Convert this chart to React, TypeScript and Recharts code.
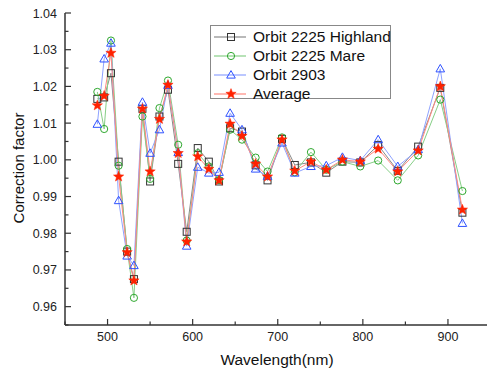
import { LineChart, Line, XAxis, YAxis, Legend } from "recharts"

const wavelengths = [488, 496, 504, 513, 523, 531, 541, 550, 561, 571, 583, 593, 606, 619, 631, 644, 658, 674, 688, 705, 720, 739, 757, 776, 797, 818, 841, 865, 891, 917]

const highland = [1.0166, 1.017, 1.0236, 0.9995, 0.975, 0.9675, 1.0139, 0.9941, 1.0118, 1.0191, 0.9989, 0.9804, 1.0032, 0.9995, 0.9941, 1.0086, 1.0077, 0.9985, 0.9944, 1.0057, 0.9986, 0.9993, 0.9965, 0.9995, 0.9993, 1.004, 0.997, 1.0036, 1.0196, 0.9856]
const mare = [1.0185, 1.0084, 1.0325, 0.9984, 0.9757, 0.9624, 1.0118, 0.9948, 1.0141, 1.0216, 1.0041, 0.978, 1.0018, 0.9982, 0.9945, 1.0082, 1.0055, 1.0006, 0.9968, 1.0061, 0.9966, 1.0021, 0.9973, 0.9995, 0.9982, 0.9998, 0.9944, 1.0012, 1.0164, 0.9915]
const orbit2903 = [1.0097, 1.0275, 1.0318, 0.9889, 0.9738, 0.9712, 1.0157, 1.0018, 1.0082, 1.0203, 1.002, 0.9765, 0.998, 0.9964, 0.9966, 1.0127, 1.0082, 0.9975, 0.9955, 1.0046, 0.9964, 0.9982, 0.9984, 1.0007, 0.9998, 1.0055, 0.9982, 1.0028, 1.0248, 0.9827]
const average = [1.0148, 1.0174, 1.0291, 0.9954, 0.9748, 0.9671, 1.0139, 0.9968, 1.0111, 1.0204, 1.0018, 0.9777, 1.0009, 0.9975, 0.9944, 1.0098, 1.0065, 0.9989, 0.9954, 1.0055, 0.997, 0.9995, 0.9973, 1.0, 0.9995, 1.003, 0.9968, 1.0025, 1.02, 0.9864]

const xTicks = [450, 500, 550, 600, 650, 700, 750, 800, 850, 900, 950]
const yTicks = [0.955, 0.96, 0.965, 0.97, 0.975, 0.98, 0.985, 0.99, 0.995, 1.0, 1.005, 1.01, 1.015, 1.02, 1.025, 1.03, 1.035, 1.04]

const seriesNames = ["Orbit 2225 Highland", "Orbit 2225 Mare", "Orbit 2903", "Average"]

const FONT = "'Liberation Sans', Arial, sans-serif"
const AXIS = "#333"
const SQ = "#333333"
const GREEN = "#2ea82e"
const BLUE = "#2f52ff"
const RED = "#ff2200"

const data = wavelengths.map((w, i) => ({
  w,
  highland: highland[i],
  mare: mare[i],
  orbit2903: orbit2903[i],
  average: average[i],
}))

function starPoints(cx: number, cy: number, R: number, r: number) {
  const pts: string[] = []
  for (let k = 0; k < 10; k++) {
    const rad = k % 2 === 0 ? R : r
    const a = -Math.PI / 2 + (k * Math.PI) / 5
    pts.push(`${cx + rad * Math.cos(a)},${cy + rad * Math.sin(a)}`)
  }
  return pts.join(" ")
}

function Marker({ kind, cx, cy }: { kind: number; cx: number; cy: number }) {
  if (kind === 0)
    return <rect x={cx - 3.5} y={cy - 3.5} width={7} height={7} fill="none" stroke={SQ} strokeWidth={1} />
  if (kind === 1) return <circle cx={cx} cy={cy} r={3.6} fill="none" stroke={GREEN} strokeWidth={1} />
  if (kind === 2)
    return (
      <polygon
        points={`${cx},${cy - 4.4} ${cx - 4.3},${cy + 3.1} ${cx + 4.3},${cy + 3.1}`}
        fill="none"
        stroke={BLUE}
        strokeWidth={1}
      />
    )
  return <polygon points={starPoints(cx, cy, 5.4, 2.3)} fill={RED} stroke={RED} strokeWidth={0.5} />
}

const dotFor = (kind: number) => (p: any) =>
  p.cx == null ? <g key={p.index} /> : (
    <g key={p.index}>
      <Marker kind={kind} cx={p.cx} cy={p.cy} />
    </g>
  )

const XTickBottom = (p: any) => {
  const v = p.payload.value
  const major = v % 100 === 0
  return (
    <g>
      <line x1={p.x} x2={p.x} y1={p.y} y2={p.y - (major ? 6 : 3.5)} stroke={AXIS} strokeWidth={1.2} />
      {major && (
        <text x={p.x} y={p.y + 16} textAnchor="middle" fontSize={12.5} fill="#222" fontFamily={FONT}>
          {v}
        </text>
      )}
    </g>
  )
}

const XTickTop = (p: any) => {
  const major = p.payload.value % 100 === 0
  return <line x1={p.x} x2={p.x} y1={p.y} y2={p.y + (major ? 6 : 3.5)} stroke={AXIS} strokeWidth={1.2} />
}

const YTickLeft = (p: any) => {
  const v = p.payload.value
  const major = Math.round(v * 1000) % 10 === 0
  return (
    <g>
      <line x1={p.x} x2={p.x + (major ? 6 : 3.5)} y1={p.y} y2={p.y} stroke={AXIS} strokeWidth={1.2} />
      {major && (
        <text x={p.x - 8} y={p.y + 4.5} textAnchor="end" fontSize={12.5} fill="#222" fontFamily={FONT}>
          {v.toFixed(2)}
        </text>
      )}
    </g>
  )
}

const YTickRight = (p: any) => {
  const major = Math.round(p.payload.value * 1000) % 10 === 0
  return <line x1={p.x} x2={p.x - (major ? 6 : 3.5)} y1={p.y} y2={p.y} stroke={AXIS} strokeWidth={1.2} />
}

const lineColors = ["#8a8a8a", "#86cf86", "#8ea2ff", "#ff8a80"]

function LegendBox() {
  return (
    <div
      style={{
        border: "1px solid #888",
        background: "#fff",
        width: 181,
        height: 74,
        boxSizing: "border-box",
        padding: "2px 0 0 0",
        fontFamily: FONT,
        fontSize: 15.5,
        color: "#111",
      }}
    >
      {seriesNames.map((name, i) => (
        <div key={name} style={{ display: "flex", alignItems: "center", height: 18.8 }}>
          <svg width={42} height={18} style={{ flex: "none" }}>
            <line x1={3} x2={35} y1={9} y2={9} stroke={lineColors[i]} strokeWidth={1.2} />
            <Marker kind={i} cx={20} cy={9} />
          </svg>
          <span style={{ whiteSpace: "nowrap", lineHeight: "18px" }}>{name}</span>
        </div>
      ))}
    </div>
  )
}

export default function App() {
  return (
    <div style={{ position: "absolute", left: 0, top: 0, width: 487, height: 372, overflow: "hidden", background: "#fff" }}>
      <LineChart width={495} height={372} data={data} margin={{ top: 13, right: 0, bottom: 0, left: 0 }}>
        <XAxis
          xAxisId="b"
          dataKey="w"
          type="number"
          domain={[450, 950]}
          ticks={xTicks}
          interval={0}
          height={47}
          tickSize={0}
          tickMargin={0}
          tickLine={false}
          tick={XTickBottom}
          axisLine={{ stroke: AXIS, strokeWidth: 1.5 }}
        />
        <XAxis
          xAxisId="t"
          orientation="top"
          dataKey="w"
          type="number"
          domain={[450, 950]}
          ticks={xTicks}
          interval={0}
          height={0}
          tickSize={0}
          tickMargin={0}
          tickLine={false}
          tick={XTickTop}
          axisLine={{ stroke: AXIS, strokeWidth: 1.5 }}
        />
        <YAxis
          yAxisId="l"
          type="number"
          domain={[0.955, 1.04]}
          ticks={yTicks}
          interval={0}
          width={65}
          tickSize={0}
          tickMargin={0}
          tickLine={false}
          tick={YTickLeft}
          axisLine={{ stroke: AXIS, strokeWidth: 1.5 }}
        />
        <YAxis
          yAxisId="r"
          orientation="right"
          type="number"
          domain={[0.955, 1.04]}
          ticks={yTicks}
          interval={0}
          width={4.5}
          tickSize={0}
          tickMargin={0}
          tickLine={false}
          tick={YTickRight}
          axisLine={{ stroke: AXIS, strokeWidth: 1.5 }}
        />
        <Legend
          layout="vertical"
          align="center"
          verticalAlign="middle"
          content={() => <LegendBox />}
          wrapperStyle={{ left: 210, top: 25, width: 182, height: 75 }}
        />
        <Line xAxisId="b" yAxisId="l" dataKey="highland" stroke={lineColors[0]} strokeWidth={1} dot={dotFor(0)} activeDot={false} isAnimationActive={false} />
        <Line xAxisId="b" yAxisId="l" dataKey="mare" stroke={lineColors[1]} strokeWidth={1} dot={dotFor(1)} activeDot={false} isAnimationActive={false} />
        <Line xAxisId="b" yAxisId="l" dataKey="orbit2903" stroke={lineColors[2]} strokeWidth={1} dot={dotFor(2)} activeDot={false} isAnimationActive={false} />
        <Line xAxisId="b" yAxisId="l" dataKey="average" stroke={lineColors[3]} strokeWidth={1} dot={dotFor(3)} activeDot={false} isAnimationActive={false} />
      </LineChart>
      <div
        style={{
          position: "absolute",
          left: 18,
          top: 168,
          transform: "translate(-50%, -50%) rotate(-90deg)",
          whiteSpace: "nowrap",
          fontFamily: FONT,
          fontSize: 15,
          color: "#111",
        }}
      >
        Correction factor
      </div>
      <div
        style={{
          position: "absolute",
          left: 277,
          top: 360,
          transform: "translate(-50%, -50%)",
          whiteSpace: "nowrap",
          fontFamily: FONT,
          fontSize: 15.5,
          color: "#111",
        }}
      >
        Wavelength(nm)
      </div>
    </div>
  )
}
